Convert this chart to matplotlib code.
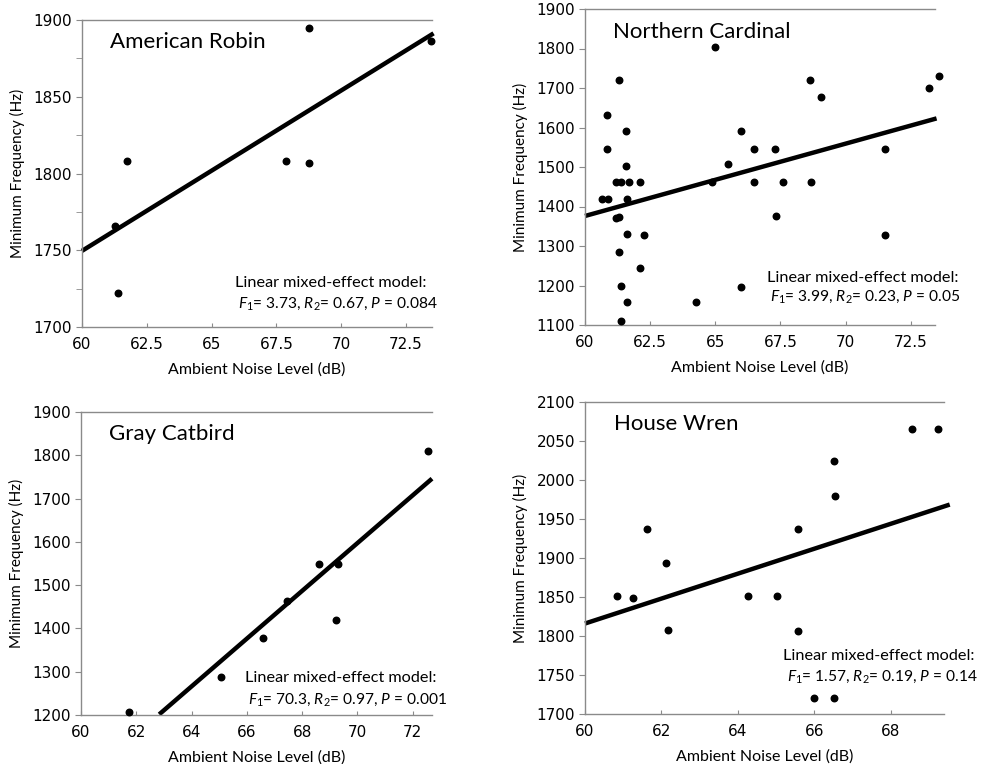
import matplotlib.pyplot as plt
import numpy as np

plt.rcParams['font.family'] = ['Lato', 'DejaVu Sans']
plt.rcParams['mathtext.fontset'] = 'custom'
plt.rcParams['mathtext.rm'] = 'Lato'
plt.rcParams['mathtext.it'] = 'Lato:italic'

# American Robin
robin_x = [61.26, 61.38, 61.75, 67.86, 68.75, 68.75, 73.48]
robin_y = [1766, 1722, 1808, 1808, 1807, 1895, 1886]
robin_line_x = [60.0, 73.56]
robin_line_y = [1749.6, 1891.3]

# Northern Cardinal
cardinal_x = [64.97, 61.29, 68.62, 73.58, 73.21, 69.07, 60.83, 61.56, 65.97, 60.83,
              66.48, 67.29, 71.51, 61.56, 65.50, 61.19, 61.38, 61.70, 62.12, 64.88,
              66.48, 67.58, 68.68, 60.65, 60.90, 61.60, 61.18, 61.32, 67.31, 61.60,
              62.26, 71.51, 61.29, 62.12, 61.37, 65.97, 61.60, 64.26, 61.37]
cardinal_y = [1805, 1720, 1720, 1731, 1700, 1676, 1632, 1591, 1591, 1546,
              1546, 1546, 1546, 1503, 1507, 1461, 1461, 1461, 1461, 1461,
              1461, 1461, 1461, 1418, 1418, 1418, 1372, 1373, 1376, 1330,
              1327, 1327, 1286, 1244, 1199, 1197, 1158, 1158, 1111]
cardinal_line_x = [60.0, 73.49]
cardinal_line_y = [1376, 1623]

# Gray Catbird
catbird_x = [61.74, 65.05, 66.57, 67.45, 68.60, 69.31, 69.21, 72.55]
catbird_y = [1206, 1287, 1378, 1464, 1548, 1548, 1419, 1811]
catbird_line_x = [62.83, 72.7]
catbird_line_y = [1201.5, 1746]

# House Wren
wren_x = [60.85, 61.25, 61.63, 62.12, 62.17, 64.28, 65.02, 65.57, 65.57, 65.99,
          66.53, 66.53, 66.54, 68.55, 69.25]
wren_y = [1851, 1849, 1937, 1894, 1808, 1851, 1851, 1937, 1806, 1720,
          1720, 2025, 1980, 2066, 2066]
wren_line_x = [60.0, 69.55]
wren_line_y = [1816, 1968.5]

fig = plt.figure(figsize=(9.81, 7.64), dpi=100)
W, H = 981.0, 764.0


def box(l, t, r, b):
    return [l / W, 1 - b / H, (r - l) / W, (b - t) / H]


def style(ax, xlim, ylim, xticks, xlabels, yticks, yminor):
    ax.set_xlim(xlim)
    ax.set_ylim(ylim)
    for s in ['left', 'bottom', 'top']:
        ax.spines[s].set_color('#8a8a8a')
        ax.spines[s].set_linewidth(1.0)
    ax.spines['right'].set_visible(False)
    ax.set_xticks(xticks)
    ax.set_xticklabels(xlabels, family='DejaVu Sans', fontsize=11)
    ax.set_yticks(yticks)
    ax.set_yticklabels([str(v) for v in yticks], family='DejaVu Sans', fontsize=11)
    ax.set_yticks(yminor, minor=True)
    ax.tick_params(axis='x', direction='in', length=3, color='#8a8a8a', pad=7)
    ax.tick_params(axis='y', which='both', direction='out', length=4, color='#8a8a8a', pad=3)
    ax.set_xlabel('Ambient Noise Level (dB)', fontsize=11.5, labelpad=8)
    ax.set_ylabel('Minimum Frequency (Hz)', fontsize=11, labelpad=6)


def panel(ax, x, y, lx, ly, title):
    ax.scatter(x, y, s=22, color='black', zorder=3, clip_on=False)
    ax.plot(lx, ly, color='black', linewidth=3.2, solid_capstyle='butt', clip_on=False)
    ax.text(0.08, 0.96, title, transform=ax.transAxes, fontsize=16, va='top')


def note(x, y1, y2, stats, right=None):
    fig.text(x / W, 1 - y1 / H, 'Linear mixed-effect model:', fontsize=11.7, va='center')
    if right is None:
        fig.text((x + 3) / W, 1 - y2 / H, stats, fontsize=11.2, va='center')
    else:
        fig.text(right / W, 1 - y2 / H, stats, fontsize=11.2, va='center', ha='right')


ax1 = fig.add_axes(box(82, 20, 432, 327))
panel(ax1, robin_x, robin_y, robin_line_x, robin_line_y, 'American Robin')
style(ax1, (60, 73.5), (1700, 1900), [60, 62.5, 65, 67.5, 70, 72.5],
      ['60', '62.5', '65', '67.5', '70', '72.5'],
      [1700, 1750, 1800, 1850, 1900], [1725, 1775, 1825, 1875])
note(235, 283, 304, r'$F_\mathit{1}$= 3.73, $R_\mathit{2}$= 0.67, $P$ = 0.084')

ax2 = fig.add_axes(box(585, 9, 935, 325))
panel(ax2, cardinal_x, cardinal_y, cardinal_line_x, cardinal_line_y, 'Northern Cardinal')
style(ax2, (60, 73.43), (1100, 1900), [60, 62.5, 65, 67.5, 70, 72.5],
      ['60', '62.5', '65', '67.5', '70', '72.5'],
      list(range(1100, 1901, 100)), [])
note(767, 278, 297, r'$F_\mathit{1}$= 3.99, $R_\mathit{2}$= 0.23, $P$ = 0.05')

ax3 = fig.add_axes(box(81, 412, 432, 715))
panel(ax3, catbird_x, catbird_y, catbird_line_x, catbird_line_y, 'Gray Catbird')
style(ax3, (60, 72.7), (1200, 1900), [60, 62, 64, 66, 68, 70, 72],
      ['60', '62', '64', '66', '68', '70', '72'],
      list(range(1200, 1901, 100)), [])
note(245, 678, 700, r'$F_\mathit{1}$= 70.3, $R_\mathit{2}$= 0.97, $P$ = 0.001')

ax4 = fig.add_axes(box(585, 402, 944, 714))
panel(ax4, wren_x, wren_y, wren_line_x, wren_line_y, 'House Wren')
style(ax4, (60, 69.4), (1700, 2100), [60, 62, 64, 66, 68],
      ['60', '62', '64', '66', '68'],
      list(range(1700, 2101, 50)), [])
note(783, 656, 677, r'$F_\mathit{1}$= 1.57, $R_\mathit{2}$= 0.19, $P$ = 0.14', right=978)

fig.savefig('out.png', dpi=100)
